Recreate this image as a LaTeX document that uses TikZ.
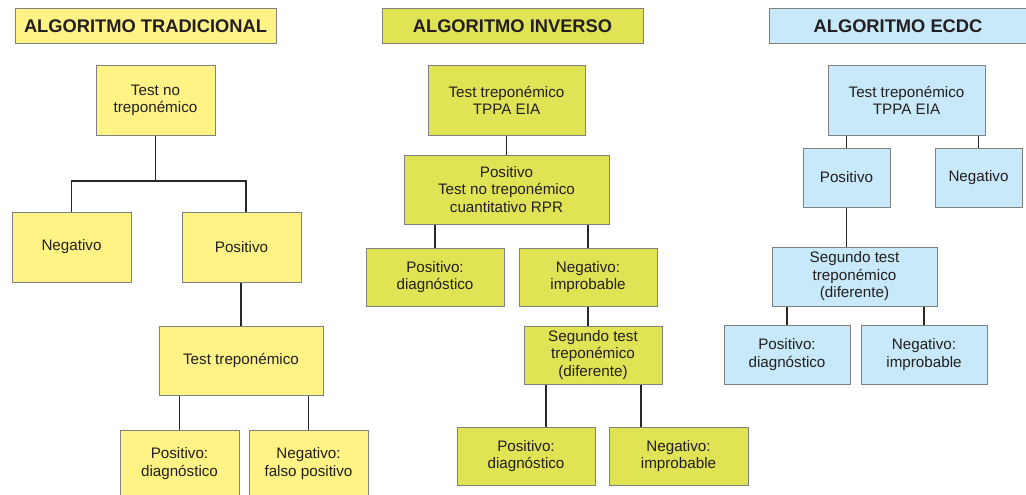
\documentclass[tikz,border=0pt]{standalone}
\usepackage{fontspec}
\setmainfont{Liberation Sans}
\usetikzlibrary{backgrounds}
\definecolor{tradfill}{RGB}{255,243,133}
\definecolor{invfill}{RGB}{224,227,84}
\definecolor{ecdcfill}{RGB}{199,233,249}
\definecolor{boxline}{RGB}{128,128,128}
\definecolor{txt}{RGB}{35,31,32}
\definecolor{conn}{RGB}{40,40,40}
\tikzset{
  boxbase/.style={draw=boxline, line width=1pt, inner sep=0pt, align=center,
    text=txt, font=\fontsize{15.2}{17.5}\selectfont},
  tradbox/.style={boxbase, fill=tradfill},
  invbox/.style={boxbase, fill=invfill},
  ecdcbox/.style={boxbase, fill=ecdcfill},
  titlefont/.style={font=\bfseries\fontsize{18.3}{20}\selectfont},
  sz/.style 2 args={minimum width=#1pt, minimum height=#2pt},
  link/.style={draw=conn, line width=1.7pt}
}
\begin{document}
\begin{tikzpicture}[x=1pt,y=-1pt]
\useasboundingbox (0,0) rectangle (1026,495);
\clip (0,0) rectangle (1026,495);
% ---------- Tradicional ----------
\node[tradbox, titlefont, sz={261}{35}] (tT) at (145.5,26.5) {ALGORITMO TRADICIONAL};
\node[tradbox, sz={119}{69}] (t1) at (155.5,100.5) {Test no\\treponémico};
\node[tradbox, sz={119}{70}] (tneg) at (71.5,247) {Negativo};
\node[tradbox, sz={119}{70}] (tpos) at (241.5,247) {Positivo};
\node[tradbox, sz={164}{69}] (t2) at (241,360.5) {Test treponémico};
\node[tradbox, sz={119}{67}] (tpd) at (179.5,463.5) {Positivo:\\diagnóstico};
\node[tradbox, sz={119}{67}] (tnf) at (308.5,463.5) {Negativo:\\falso positivo};
% ---------- Inverso ----------
\node[invbox, titlefont, sz={261}{35}] (iT) at (512.5,26.5) {ALGORITMO INVERSO};
\node[invbox, sz={157}{69}] (i1) at (506.5,100.5) {Test treponémico\\TPPA EIA};
\node[invbox, sz={205}{69}] (i2) at (506.5,189.5) {Positivo\\Test no treponémico\\cuantitativo RPR};
\node[invbox, sz={138}{58}] (ipd) at (435,277) {Positivo:\\diagnóstico};
\node[invbox, sz={138}{58}] (ini) at (588,277) {Negativo:\\improbable};
\node[invbox, sz={138}{58}] (i3) at (593,355) {Segundo test\\treponémico\\(diferente)};
\node[invbox, sz={138}{58}] (ipd2) at (526,456) {Positivo:\\diagnóstico};
\node[invbox, sz={139}{58}] (ini2) at (678.5,456) {Negativo:\\improbable};
% ---------- ECDC ----------
\node[ecdcbox, titlefont, sz={258}{35}] (eT) at (898,26.5) {ALGORITMO ECDC};
\node[ecdcbox, sz={157}{69}] (e1) at (906.5,100.5) {Test treponémico\\TPPA EIA};
\node[ecdcbox, sz={87}{59}] (epos) at (846.5,177.5) {Positivo};
\node[ecdcbox, sz={87}{59}] (eneg) at (978.5,177.5) {Negativo};
\node[ecdcbox, sz={165}{59}] (e2) at (854.5,276.5) {Segundo test\\treponémico\\(diferente)};
\node[ecdcbox, sz={126}{59}] (epd) at (787,354.5) {Positivo:\\diagnóstico};
\node[ecdcbox, sz={126}{59}] (eni) at (924,354.5) {Negativo:\\improbable};
% ---------- connectors ----------
\coordinate (tj) at (155.5,181);
\coordinate (tjr) at (246,181);
\coordinate (ia) at (546,0);
\coordinate (ib) at (641,0);
\begin{scope}[on background layer]
\draw[link] (t1.south) -- (tj);
\draw[link] (tneg.north) |- (tjr) -- (tjr |- tpos.north);
\draw[link] (t2.north) -- (t2.north |- tpos.south);
\draw[link] (tpd.north) -- (tpd.north |- t2.south);
\draw[link] (tnf.north) -- (tnf.north |- t2.south);
\draw[link] (i1.south) -- (i2.north);
\draw[link] (ipd.north) -- (ipd.north |- i2.south);
\draw[link] (ini.north) -- (ini.north |- i2.south);
\draw[link] (ini.south) -- (ini.south |- i3.north);
\draw[link] (ia |- i3.south) -- (ia |- ipd2.north);
\draw[link] (ib |- i3.south) -- (ib |- ini2.north);
\draw[link] (epos.north) -- (epos.north |- e1.south);
\draw[link] (eneg.north) -- (eneg.north |- e1.south);
\draw[link] (epos.south) -- (epos.south |- e2.north);
\draw[link] (epd.north) -- (epd.north |- e2.south);
\draw[link] (eni.north) -- (eni.north |- e2.south);
\end{scope}
\end{tikzpicture}
\end{document}
